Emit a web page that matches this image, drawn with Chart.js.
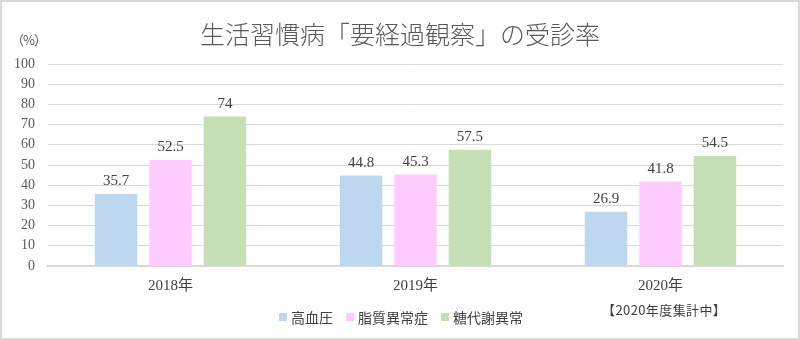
<!DOCTYPE html>
<html><head><meta charset="utf-8">
<script src="https://cdn.jsdelivr.net/npm/chart.js@4/dist/chart.umd.min.js"></script>
<style>
html,body{margin:0;padding:0;background:#fff;}
#wrap{position:relative;width:800px;height:340px;overflow:hidden;background:#fff;}
#c{position:absolute;left:0;top:0;}
#frame{position:absolute;left:0;top:0;width:800px;height:340px;box-sizing:border-box;border:2px solid #d9d9d9;pointer-events:none;}
#title{position:absolute;left:0;width:800px;top:17px;text-align:center;font-family:"Noto Sans CJK JP Light","Noto Sans CJK JP";font-weight:300;font-size:25px;line-height:32px;color:#595959;}
#unit{position:absolute;left:11px;top:32px;font-family:"Noto Sans CJK JP";font-size:13px;line-height:16px;color:#595959;letter-spacing:-1px;}
#legend{position:absolute;left:279px;top:308px;display:flex;align-items:center;font-family:"Noto Sans CJK JP";font-size:14px;line-height:18px;color:#404040;}
#legend .it{display:flex;align-items:center;margin-right:13px;}
#legend .sw{width:8px;height:8px;margin-right:4px;}
#note{position:absolute;left:602px;top:302px;font-family:"Noto Sans CJK JP";font-size:13px;line-height:16px;color:#404040;letter-spacing:0.4px;}
</style></head>
<body>
<div id="wrap">
<canvas id="c" width="800" height="340"></canvas>
<div id="title"></div>
<div id="unit">（%）</div>
<div id="legend"></div>
<div id="note"></div>
<div id="frame"></div>
</div>
<script>
const chartTitle = "生活習慣病「要経過観察」の受診率";
const categories = ["2018年", "2019年", "2020年"];
const seriesNames = ["高血圧", "脂質異常症", "糖代謝異常"];
const hypertension = [35.7, 44.8, 26.9];
const dyslipidemia = [52.5, 45.3, 41.8];
const glucose = [74, 57.5, 54.5];
const seriesColors = ["#BDD7EE", "#FFCCFF", "#C5E0B4"];
const noteText = "【2020年度集計中】";

document.getElementById('title').textContent = chartTitle;
document.getElementById('note').textContent = noteText;
const lg = document.getElementById('legend');
seriesNames.forEach((n,i)=>{
  const it=document.createElement('div');it.className='it';
  const sw=document.createElement('div');sw.className='sw';sw.style.background=seriesColors[i];
  const tx=document.createElement('span');tx.textContent=n;
  it.appendChild(sw);it.appendChild(tx);lg.appendChild(it);
});

const valueLabels = {
  id:'valueLabels',
  afterDatasetsDraw(chart){
    const ctx=chart.ctx;
    ctx.save();
    ctx.font='15px "Liberation Serif", serif';
    ctx.fillStyle='#404040';
    ctx.textAlign='center';
    ctx.textBaseline='bottom';
    chart.data.datasets.forEach((ds,di)=>{
      chart.getDatasetMeta(di).data.forEach((bar,i)=>{
        ctx.fillText(String(ds.data[i]), bar.x, bar.y-5);
      });
    });
    ctx.restore();
  }
};

new Chart(document.getElementById('c'), {
  type:'bar',
  data:{
    labels:categories,
    datasets:[
      {label:seriesNames[0], data:hypertension, backgroundColor:seriesColors[0]},
      {label:seriesNames[1], data:dyslipidemia, backgroundColor:seriesColors[1]},
      {label:seriesNames[2], data:glucose, backgroundColor:seriesColors[2]}
    ]
  },
  options:{
    responsive:false,
    animation:false,
    devicePixelRatio:1,
    layout:{padding:{left:0,right:17,top:64,bottom:44}},
    plugins:{legend:{display:false},title:{display:false},tooltip:{enabled:false}},
    datasets:{bar:{categoryPercentage:0.667,barPercentage:0.78}},
    scales:{
      x:{
        grid:{display:false},
        border:{display:true,color:'#d9d9d9',width:2},
        ticks:{padding:3,color:'#404040',font:{family:'"Liberation Serif", "Noto Sans CJK JP", serif',size:15}},
        afterFit(s){s.height=30;}
      },
      y:{
        min:0,max:100,
        grid:{color:'#d9d9d9',lineWidth:1,drawTicks:false},
        border:{display:false},
        ticks:{stepSize:10,autoSkip:false,padding:13,color:'#595959',font:{family:'"Liberation Serif", serif',size:14}},
        afterFit(s){s.width=48;}
      }
    }
  },
  plugins:[valueLabels]
});
</script>
</body></html>
